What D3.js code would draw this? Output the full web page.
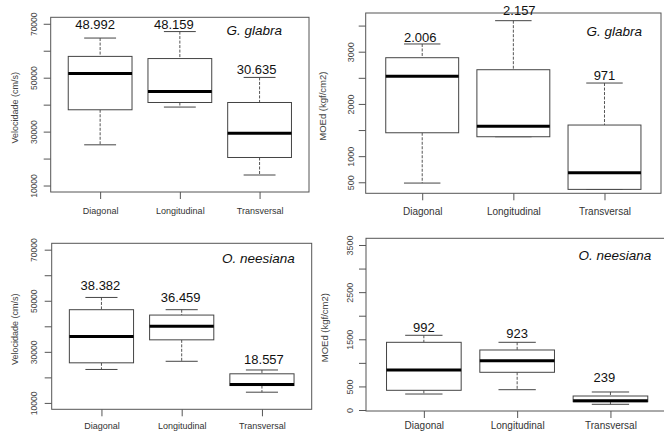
<!DOCTYPE html>
<html>
<head>
<meta charset="utf-8">
<script src="https://cdn.jsdelivr.net/npm/d3@7"></script>
<style>
  body { margin: 0; background: #fff; }
  svg { display: block; font-family: "Liberation Sans", Arial, sans-serif; }
</style>
</head>
<body>
<script>
// categories on the x axis of every panel
var categories = ["Diagonal", "Longitudinal", "Transversal"];

// box stats per category: [lower whisker, Q1, median, Q3, upper whisker]
var velGlabra = [
  [25100, 38100, 51600, 57900, 64700],
  [39100, 40800, 44900, 57100, 67100],
  [13900, 20400, 29400, 40800, 50100]
];
var moeGlabra = [
  [485, 1448, 2529, 2885, 3148],
  [1372, 1372, 1571, 2655, 3594],
  [364, 364, 682, 1596, 2400]
];
var velNeesiana = [
  [23100, 25700, 36000, 46500, 51300],
  [26300, 34700, 40000, 44400, 46500],
  [14200, 16800, 17200, 21400, 22900]
];
var moeNeesiana = [
  [339, 418, 849, 1436, 1585],
  [431, 800, 1046, 1273, 1436],
  [121, 176, 197, 297, 382]
];

// mean labels written above the boxes, and the y value they sit at
var velGlabraLabels = ["48.992", "48.159", "30.635"];
var velGlabraLabelY = [69630, 69630, 52930];
var moeGlabraLabels = ["2.006", "2.157", "971"];
var moeGlabraLabelY = [3276, 3799, 2554];
var velNeesianaLabels = ["38.382", "36.459", "18.557"];
var velNeesianaLabelY = [56160, 51330, 27140];
var moeNeesianaLabels = ["992", "923", "239"];
var moeNeesianaLabelY = [1754, 1627, 694];

// axis ticks and which of them carry a label
var velTicks = [10000, 20000, 30000, 40000, 50000, 60000, 70000];
var velTickLabels = [10000, 30000, 50000, 70000];
var moeGlabraTicks = [500, 1000, 1500, 2000, 2500, 3000, 3500];
var moeGlabraTickLabels = [500, 1000, 2000, 3000];
var moeNeesianaTicks = [0, 500, 1000, 1500, 2000, 2500, 3000, 3500];
var moeNeesianaTickLabels = [0, 500, 1500, 2500, 3500];

var species = ["G. glabra", "O. neesiana"];
var yTitles = ["Velocidade (cm/s)", "MOEd (kgf/cm2)"];

var svg = d3.select("body").append("svg")
  .attr("width", 664)
  .attr("height", 431);

// the four panels, placement
var panels = [
  { stats: velGlabra, labels: velGlabraLabels, labelY: velGlabraLabelY,
    ticks: velTicks, tickLabels: velTickLabels, domain: [7600, 72400],
    species: species[0], title: yTitles[0],
    left: 50.7, right: 309, top: 17.3, bottom: 192,
    tickLabelX: 34, titleX: 15, xLabelY: 214, xFont: 9, yFont: 8.5,
    spRight: 27, spY: 30, labelDx: [-5, -6, -3] },
  { stats: moeGlabra, labels: moeGlabraLabels, labelY: moeGlabraLabelY,
    ticks: moeGlabraTicks, tickLabels: moeGlabraTickLabels, domain: [289, 3741],
    species: species[0], title: yTitles[1],
    left: 365.7, right: 661, top: 13, bottom: 193.3,
    tickLabelX: 350.7, titleX: 323, xLabelY: 215.2, xFont: 10, yFont: 9,
    spRight: 19, spY: 31, labelDx: [-2, 6, 0] },
  { stats: velNeesiana, labels: velNeesianaLabels, labelY: velNeesianaLabelY,
    ticks: velTicks, tickLabels: velTickLabels, domain: [7500, 72500],
    species: species[1], title: yTitles[0],
    left: 51.7, right: 311.7, top: 243.3, bottom: 409.3,
    tickLabelX: 34.3, titleX: 15, xLabelY: 428.6, xFont: 9, yFont: 8.5,
    spRight: 17, spY: 258.3, labelDx: [-1, -1, 2] },
  { stats: moeNeesiana, labels: moeNeesianaLabels, labelY: moeNeesianaLabelY,
    ticks: moeNeesianaTicks, tickLabels: moeNeesianaTickLabels, domain: [-21, 3642],
    species: species[1], title: yTitles[1],
    left: 366, right: 668.3, top: 238.3, bottom: 411,
    tickLabelX: 350, titleX: 325, xLabelY: 428.8, xFont: 10, yFont: 9,
    spRight: 17, spY: 255, labelDx: [0, 0, -6] }
];

panels.forEach(function(p) {

  var x = d3.scaleLinear().domain([0.38, 3.62]).range([p.left, p.right]);
  var y = d3.scaleLinear().domain(p.domain).range([p.bottom, p.top]);
  var g = svg.append("g");

  // y axis, labels rotated like R does
  var yAxis = g.append("g")
    .attr("transform", "translate(" + p.left + ",0)")
    .call(d3.axisLeft(y)
      .tickValues(p.ticks)
      .tickSize(7)
      .tickFormat(function(d) { return p.tickLabels.indexOf(d) >= 0 ? d : ""; }));
  yAxis.select(".domain").remove();
  yAxis.selectAll("line").attr("stroke", "#555");
  yAxis.selectAll("text")
    .attr("transform", "rotate(-90)")
    .attr("x", 0)
    .attr("y", p.tickLabelX - p.left)
    .attr("dy", "0.35em")
    .attr("text-anchor", "middle")
    .attr("fill", "#444")
    .style("font-size", p.yFont + "px");

  // x axis
  var xAxis = g.append("g")
    .attr("transform", "translate(0," + p.bottom + ")")
    .call(d3.axisBottom(x)
      .tickValues([1, 2, 3])
      .tickSize(7)
      .tickFormat(function(d) { return categories[d - 1]; }));
  xAxis.select(".domain").remove();
  xAxis.selectAll("line").attr("stroke", "#555");
  xAxis.selectAll("text")
    .attr("y", p.xLabelY - p.bottom)
    .attr("dy", 0)
    .attr("fill", "#333")
    .style("font-size", p.xFont + "px");

  // y axis title
  g.append("text")
    .attr("transform", "translate(" + p.titleX + "," + ((p.top + p.bottom) / 2 + 3) + ") rotate(-90)")
    .attr("dy", "0.35em")
    .attr("text-anchor", "middle")
    .attr("fill", "#444")
    .style("font-size", (p.yFont + 0.5) + "px")
    .text(p.title);

  // boxes
  var half = (x(1.4) - x(0.6)) / 2;
  var cap = half / 2;
  var box = g.selectAll("g.box")
    .data(p.stats)
    .enter().append("g")
    .attr("class", "box")
    .attr("transform", function(d, i) { return "translate(" + x(i + 1) + ",0)"; });

  // whiskers, dashed
  box.append("line")
    .attr("y1", function(d) { return y(d[4]); })
    .attr("y2", function(d) { return y(d[3]); })
    .attr("stroke", "#555").attr("stroke-dasharray", "3,1.5");
  box.append("line")
    .attr("y1", function(d) { return y(d[1]); })
    .attr("y2", function(d) { return y(d[0]); })
    .attr("stroke", "#555").attr("stroke-dasharray", "3,1.5");

  // staples
  box.append("line")
    .attr("x1", -cap).attr("x2", cap)
    .attr("y1", function(d) { return y(d[4]); })
    .attr("y2", function(d) { return y(d[4]); })
    .attr("stroke", "#444");
  box.append("line")
    .attr("x1", -cap).attr("x2", cap)
    .attr("y1", function(d) { return y(d[0]); })
    .attr("y2", function(d) { return y(d[0]); })
    .attr("stroke", "#444");

  box.append("rect")
    .attr("x", -half)
    .attr("width", 2 * half)
    .attr("y", function(d) { return y(d[3]); })
    .attr("height", function(d) { return y(d[1]) - y(d[3]); })
    .attr("fill", "#fff")
    .attr("stroke", "#444");

  // median
  box.append("line")
    .attr("x1", -half).attr("x2", half)
    .attr("y1", function(d) { return y(d[2]); })
    .attr("y2", function(d) { return y(d[2]); })
    .attr("stroke", "#000").attr("stroke-width", 3);

  // plot frame
  g.append("rect")
    .attr("x", p.left).attr("y", p.top)
    .attr("width", p.right - p.left)
    .attr("height", p.bottom - p.top)
    .attr("fill", "none")
    .attr("stroke", "#555");

  // value labels above the boxes
  g.selectAll("text.val")
    .data(p.labels)
    .enter().append("text")
    .attr("class", "val")
    .attr("x", function(d, i) { return x(i + 1) + p.labelDx[i]; })
    .attr("y", function(d, i) { return y(p.labelY[i]); })
    .attr("dy", "0.36em")
    .attr("text-anchor", "middle")
    .attr("fill", "#111")
    .style("font-size", "13px")
    .text(function(d) { return d; });

  // species name
  g.append("text")
    .attr("x", p.right - p.spRight)
    .attr("y", p.spY)
    .attr("dy", "0.35em")
    .attr("text-anchor", "end")
    .attr("fill", "#111")
    .style("font-size", "13.5px")
    .style("font-style", "italic")
    .text(p.species);
});
</script>
</body>
</html>
